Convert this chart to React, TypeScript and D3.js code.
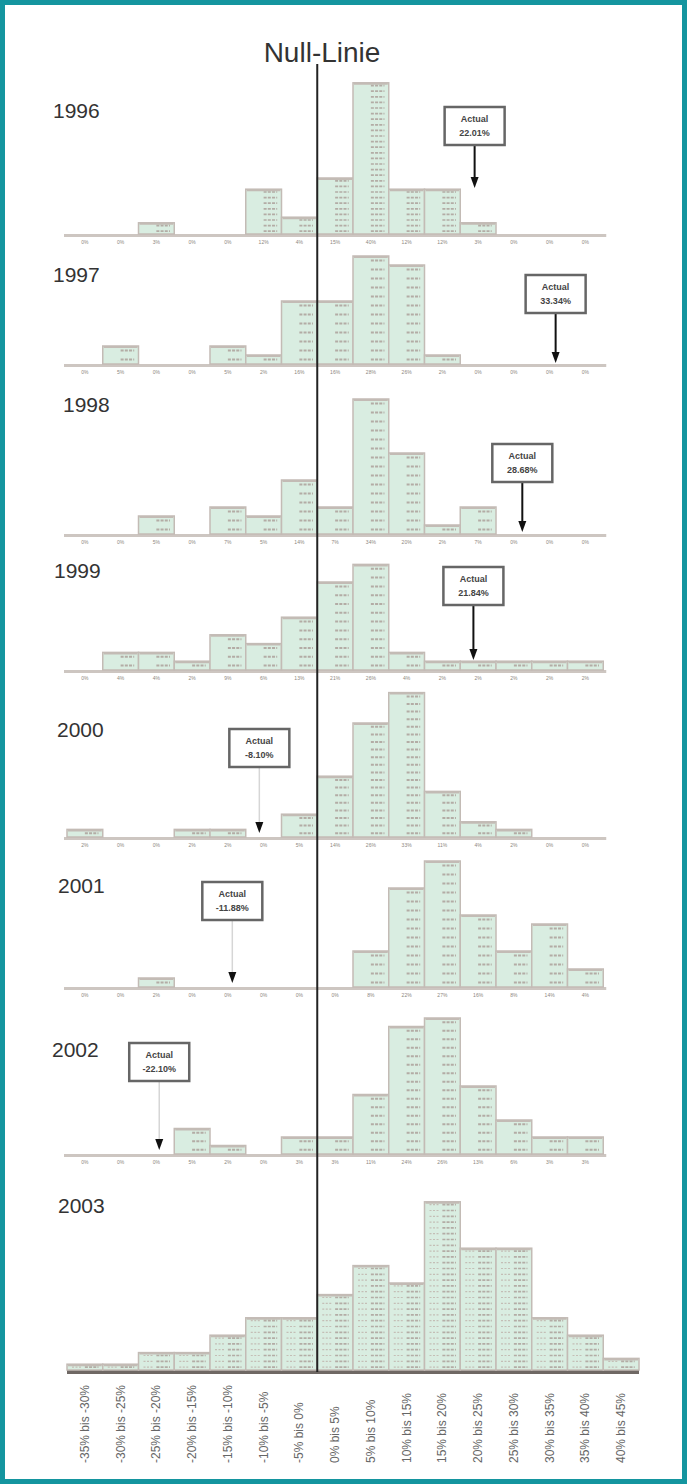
import React from 'react';
import * as d3 from 'd3';

// Return bins, 5% wide, lower bounds
const binStarts = [-35, -30, -25, -20, -15, -10, -5, 0, 5, 10, 15, 20, 25, 30, 35, 40];
const binLabels = [
  '-35% bis -30%', '-30% bis -25%', '-25% bis -20%', '-20% bis -15%',
  '-15% bis -10%', '-10% bis -5%', '-5% bis 0%', '0% bis 5%',
  '5% bis 10%', '10% bis 15%', '15% bis 20%', '20% bis 25%',
  '25% bis 30%', '30% bis 35%', '35% bis 40%', '40% bis 45%',
];

const years = ['1996', '1997', '1998', '1999', '2000', '2001', '2002', '2003'];

// number of funds per bin
const counts1996 = [0, 0, 2, 0, 0, 8, 3, 10, 27, 8, 8, 2, 0, 0, 0];
const counts1997 = [0, 2, 0, 0, 2, 1, 7, 7, 12, 11, 1, 0, 0, 0, 0];
const counts1998 = [0, 0, 2, 0, 3, 2, 6, 3, 15, 9, 1, 3, 0, 0, 0];
const counts1999 = [0, 2, 2, 1, 4, 3, 6, 10, 12, 2, 1, 1, 1, 1, 1];
const counts2000 = [1, 0, 0, 1, 1, 0, 3, 8, 15, 19, 6, 2, 1, 0, 0];
const counts2001 = [0, 0, 1, 0, 0, 0, 0, 0, 4, 11, 14, 8, 4, 7, 2];
const counts2002 = [0, 0, 0, 3, 1, 0, 2, 2, 7, 15, 16, 8, 4, 2, 2];
const counts2003 = [1, 1, 3, 3, 6, 9, 9, 13, 18, 15, 29, 21, 21, 9, 6, 2];

const allCounts = [counts1996, counts1997, counts1998, counts1999, counts2000, counts2001, counts2002, counts2003];

// actual index return per year (no marker for 2003)
const actualValues = [22.01, 33.34, 28.68, 21.84, -8.10, -11.88, -22.10];
const actualLabels = ['22.01%', '33.34%', '28.68%', '21.84%', '-8.10%', '-11.88%', '-22.10%'];

// layout per row: baseline of the row, px per fund, year label spot, callout box
const rowLayout = [
  { axisY: 234, unit: 5.6, labelX: 53, labelY: 118, boxTop: 107, tipY: 188, faint: false },
  { axisY: 364, unit: 9.0, labelX: 53, labelY: 282, boxTop: 275, tipY: 363, faint: false },
  { axisY: 534, unit: 9.0, labelX: 63, labelY: 412, boxTop: 444, tipY: 532, faint: false },
  { axisY: 670, unit: 8.8, labelX: 54, labelY: 578, boxTop: 567, tipY: 660, faint: false },
  { axisY: 837, unit: 7.6, labelX: 57, labelY: 737, boxTop: 729, tipY: 833, faint: true },
  { axisY: 987, unit: 9.0, labelX: 58, labelY: 893, boxTop: 882, tipY: 983, faint: true },
  { axisY: 1154, unit: 8.5, labelX: 52, labelY: 1057, boxTop: 1043, tipY: 1150, faint: true },
  { axisY: 1370, unit: 5.8, labelX: 58, labelY: 1213, boxTop: 0, tipY: 0, faint: false },
];

const W = 687;
const H = 1484;
const FONT = '"Liberation Sans", Arial, sans-serif';

const teal = '#14959f';
const barFill = '#d9ede1';
const barStroke = '#c3bbb5';
const axisLight = '#cdc6c1';

export default function App() {
  const x = d3.scaleLinear().domain([-35, 45]).range([67, 639]);
  const pct = d3.format('.0%');

  return (
    <div style={{ position: 'absolute', left: 0, top: 0 }}>
      <svg width={W} height={H} style={{ display: 'block', background: '#fff' }} fontFamily={FONT}>
        <rect x={2.5} y={2.5} width={W - 5} height={H - 5} fill="#fff" stroke={teal} strokeWidth={5} />

        <text x={322} y={62} textAnchor="middle" fontSize={28} fill="#333">Null-Linie</text>

        {years.map((year, r) => {
          const lay = rowLayout[r];
          const counts = allCounts[r];
          const isLast = r === years.length - 1;
          const y = d3.scaleLinear().domain([0, 1]).range([lay.axisY, lay.axisY - lay.unit]);
          const total = d3.sum(counts);
          const bins = binStarts.slice(0, counts.length);
          const lastEdge = bins[bins.length - 1] + 5;

          return (
            <g key={year}>
              <text x={lay.labelX} y={lay.labelY} fontSize={21} fill="#333">{year}</text>

              {/* axis band */}
              {isLast ? (
                <line x1={x(-35)} x2={x(lastEdge)} y1={lay.axisY + 2} y2={lay.axisY + 2}
                  stroke="#6f6864" strokeWidth={4} />
              ) : (
                <line x1={x(-35) - 3} x2={x(lastEdge) + 3} y1={lay.axisY + 1.5} y2={lay.axisY + 1.5}
                  stroke={axisLight} strokeWidth={3} />
              )}

              {/* bars */}
              {bins.map((b, i) => {
                const c = counts[i];
                if (!c) return null;
                const x0 = x(b);
                const w = x(b + 5) - x(b);
                const top = y(c);
                return (
                  <g key={b}>
                    <rect x={x0} y={top} width={w} height={lay.axisY - top}
                      fill={barFill} stroke={barStroke} strokeWidth={1.5} />
                    <line x1={x0 + 1} x2={x0 + w - 1} y1={top + 1} y2={top + 1} stroke={barStroke} strokeWidth={2} />
                    {d3.range(c).map(k => {
                      const yy = y(k + 0.5);
                      return (
                        <g key={k}>
                          <line x1={x0 + w * 0.5} x2={x0 + w * 0.88} y1={yy} y2={yy}
                            stroke="#b3aca5" strokeWidth={Math.min(2, lay.unit * 0.3)} strokeDasharray="3,1.2" />
                          {isLast && (
                            <line x1={x0 + w * 0.14} x2={x0 + w * 0.4} y1={yy} y2={yy}
                              stroke="#c4beb6" strokeWidth={1.2} strokeDasharray="2,1.5" />
                          )}
                        </g>
                      );
                    })}
                  </g>
                );
              })}

              {/* tiny share labels under the axis */}
              {!isLast && bins.map((b, i) => (
                <text key={'t' + b} x={x(b + 2.5)} y={lay.axisY + 10} textAnchor="middle"
                  fontSize={5} fill="#8d8781">{pct(counts[i] / total)}</text>
              ))}

              {/* rotated bin labels on the bottom row */}
              {isLast && binLabels.map((lab, i) => (
                <text key={lab} transform={`translate(${x(binStarts[i] + 2.5) + 4},1463) rotate(-90)`}
                  fontSize={12} fill="#666">{lab}</text>
              ))}

              {/* Actual callout */}
              {!isLast && (() => {
                const ax = x(actualValues[r]);
                const bw = 60;
                const bh = 38;
                return (
                  <g>
                    <line x1={ax} x2={ax} y1={lay.boxTop + bh} y2={lay.tipY - 8}
                      stroke={lay.faint ? '#d6d6d6' : '#111'} strokeWidth={lay.faint ? 1.5 : 2} />
                    <path d={`M${ax - 4},${lay.tipY - 11}L${ax + 4},${lay.tipY - 11}L${ax},${lay.tipY}Z`} fill="#111" />
                    <rect x={ax - bw / 2} y={lay.boxTop} width={bw} height={bh} fill="#fff" stroke="#666" strokeWidth={2.5} />
                    <text x={ax} y={lay.boxTop + 15} textAnchor="middle" fontSize={9} fontWeight={600} fill="#444">Actual</text>
                    <text x={ax} y={lay.boxTop + 29} textAnchor="middle" fontSize={9} fontWeight={600} fill="#444">{actualLabels[r]}</text>
                  </g>
                );
              })()}
            </g>
          );
        })}

        {/* zero line */}
        <line x1={x(0)} x2={x(0)} y1={64} y2={1372} stroke="#222" strokeWidth={2} />
      </svg>
    </div>
  );
}
